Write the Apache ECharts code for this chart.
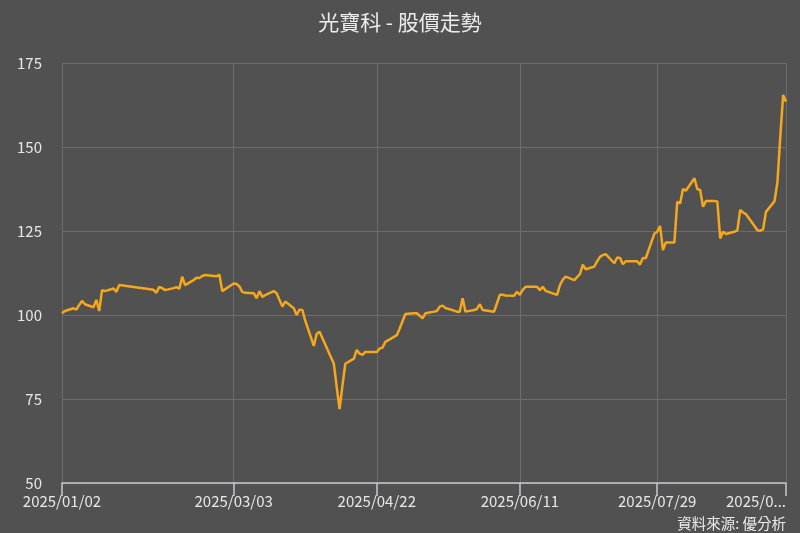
<!DOCTYPE html>
<html>
<head>
<meta charset="utf-8">
<script src="https://cdn.jsdelivr.net/npm/echarts@6/dist/echarts.min.js"></script>
<style>
html,body{margin:0;padding:0;background:#515151;}
#chart{width:800px;height:533px;}
</style>
</head>
<body>
<div id="chart"></div>
<script>
var titleText = '光寶科 - 股價走勢';
var sourceText = '資料來源: 優分析';

var dates = [
'2025/01/02','2025/01/03','2025/01/06','2025/01/07','2025/01/08','2025/01/09','2025/01/10',
'2025/01/13','2025/01/14','2025/01/15','2025/01/16','2025/01/17',
'2025/01/20','2025/01/21','2025/01/22',
'2025/02/03','2025/02/04','2025/02/05','2025/02/06','2025/02/07',
'2025/02/10','2025/02/11','2025/02/12','2025/02/13','2025/02/14',
'2025/02/17','2025/02/18','2025/02/19','2025/02/20','2025/02/21',
'2025/02/24','2025/02/25','2025/02/26','2025/02/27',
'2025/03/03','2025/03/04','2025/03/05','2025/03/06','2025/03/07',
'2025/03/10','2025/03/11','2025/03/12','2025/03/13','2025/03/14',
'2025/03/17','2025/03/18','2025/03/19','2025/03/20','2025/03/21',
'2025/03/24','2025/03/25','2025/03/26','2025/03/27','2025/03/28',
'2025/03/31','2025/04/01','2025/04/02',
'2025/04/07','2025/04/08','2025/04/09','2025/04/10','2025/04/11',
'2025/04/14','2025/04/15','2025/04/16','2025/04/17','2025/04/18',
'2025/04/21','2025/04/22','2025/04/23','2025/04/24','2025/04/25',
'2025/04/28','2025/04/29','2025/04/30','2025/05/02',
'2025/05/05','2025/05/06','2025/05/07','2025/05/08','2025/05/09',
'2025/05/12','2025/05/13','2025/05/14','2025/05/15','2025/05/16',
'2025/05/19','2025/05/20','2025/05/21','2025/05/22','2025/05/23',
'2025/05/26','2025/05/27','2025/05/28','2025/05/29',
'2025/06/02','2025/06/03','2025/06/04','2025/06/05','2025/06/06',
'2025/06/09','2025/06/10','2025/06/11','2025/06/12','2025/06/13',
'2025/06/16','2025/06/17','2025/06/18','2025/06/19','2025/06/20',
'2025/06/23','2025/06/24','2025/06/25','2025/06/26','2025/06/27',
'2025/06/30','2025/07/01','2025/07/02','2025/07/03','2025/07/04',
'2025/07/07','2025/07/08','2025/07/09','2025/07/10','2025/07/11',
'2025/07/14','2025/07/15','2025/07/16','2025/07/17','2025/07/18',
'2025/07/21','2025/07/22','2025/07/23','2025/07/24','2025/07/25',
'2025/07/28','2025/07/29','2025/07/30','2025/07/31','2025/08/01',
'2025/08/04','2025/08/05','2025/08/06','2025/08/07','2025/08/08',
'2025/08/11','2025/08/12','2025/08/13','2025/08/14','2025/08/15',
'2025/08/18','2025/08/19','2025/08/20','2025/08/21','2025/08/22',
'2025/08/25','2025/08/26','2025/08/27','2025/08/28','2025/08/29',
'2025/09/01','2025/09/02','2025/09/03','2025/09/04','2025/09/05',
'2025/09/08','2025/09/09','2025/09/10','2025/09/11','2025/09/12'
];

var prices = [
100.5,101.2,102.0,101.6,103.0,104.2,103.2,
102.3,104.5,101.2,107.4,107.1,
107.9,106.9,108.9,
107.5,106.6,108.4,108.0,107.4,
108.0,108.3,107.8,111.4,108.9,
110.4,111.1,111.0,111.6,111.9,
111.6,111.5,112.0,107.1,
109.4,109.2,108.5,106.9,106.6,
106.5,105.0,107.1,105.4,105.9,
107.1,106.5,104.5,102.5,104.0,
102.0,100.0,101.6,101.5,98.3,
90.8,94.4,95.0,
85.5,78.5,72.0,79.0,85.5,
87.0,89.6,88.5,88.1,89.0,
89.0,89.0,90.0,90.3,92.0,
93.5,94.0,96.0,100.3,
100.5,100.5,99.8,99.0,100.5,
101.0,101.2,102.5,102.8,102.1,
101.3,101.0,101.0,105.0,101.0,
101.5,101.8,103.2,101.5,
101.0,103.5,106.0,106.0,105.8,
105.7,106.9,106.0,107.5,108.4,
108.4,108.4,107.4,108.4,107.2,
106.3,106.0,108.9,110.5,111.4,
110.4,111.3,112.2,115.0,113.6,
114.4,116.0,117.3,117.8,118.1,
115.4,117.1,117.0,115.1,116.0,
116.0,116.0,115.0,117.0,116.9,
124.2,124.8,126.5,119.3,121.6,
121.6,133.7,133.2,137.5,137.0,
140.7,137.5,137.2,132.2,133.9,
133.9,133.8,122.8,124.8,124.1,
124.8,125.2,131.3,130.5,130.0,
126.5,125.2,125.1,125.5,130.7,
133.9,139.5,153.0,165.5,163.5
];

var tickDates = ['2025/01/02','2025/03/03','2025/04/22','2025/06/11','2025/07/29','2025/09/12'];

var yMin = 50, yMax = 175, yStep = 25;

function ts(s){ var p = s.split('/'); return Date.UTC(+p[0], +p[1]-1, +p[2]); }
function pad(n){ return (n<10?'0':'')+n; }
function fmt(v){ var d = new Date(v); return d.getUTCFullYear()+'/'+pad(d.getUTCMonth()+1)+'/'+pad(d.getUTCDate()); }

var seriesData = dates.map(function(d,i){ return [ts(d), prices[i]]; });
var tickValues = tickDates.map(ts);
var lastTick = tickValues[tickValues.length-1];

var FONT = '"Noto Sans CJK TC", "Noto Sans", sans-serif';
var chart = echarts.init(document.getElementById('chart'));
chart.setOption({
  backgroundColor: '#515151',
  animation: false,
  title: {
    text: titleText,
    left: 'center',
    top: 7,
    textStyle: { color: '#ececec', fontSize: 21, fontWeight: 'normal', fontFamily: FONT }
  },
  graphic: [{
    type: 'text',
    right: 14,
    bottom: 2,
    style: { text: sourceText, fill: '#ececec', fontSize: 14.5, fontFamily: FONT }
  }],
  grid: { left: 62, right: 14, top: 63, bottom: 50, containLabel: false },
  xAxis: {
    type: 'value',
    min: tickValues[0],
    max: lastTick,
    axisLine: { show: true, lineStyle: { color: '#c8c8d0', width: 1.5 } },
    axisTick: { show: true, length: 13, customValues: tickValues, lineStyle: { color: '#c8c8d0', width: 1.5 } },
    axisLabel: {
      customValues: tickValues,
      color: '#e8e8e8',
      fontSize: 15,
      fontFamily: FONT,
      margin: 11,
      alignMaxLabel: 'right',
      formatter: function(v){
        var s = fmt(v);
        if (v === lastTick) return s.slice(0,6) + '...';
        return s;
      }
    },
    splitLine: { show: true, lineStyle: { color: '#6c6c6c', width: 1 } }
  },
  yAxis: {
    type: 'value',
    min: yMin,
    max: yMax,
    interval: yStep,
    axisLine: { show: false },
    axisTick: { show: false },
    axisLabel: { color: '#e8e8e8', fontSize: 15, fontFamily: FONT, margin: 20 },
    splitLine: { show: true, lineStyle: { color: '#6c6c6c', width: 1 } }
  },
  series: [{
    type: 'line',
    data: seriesData,
    showSymbol: false,
    symbol: 'none',
    lineStyle: { color: '#f5a81c', width: 2.5 },
    itemStyle: { color: '#f5a81c' }
  }]
});
</script>
</body>
</html>
